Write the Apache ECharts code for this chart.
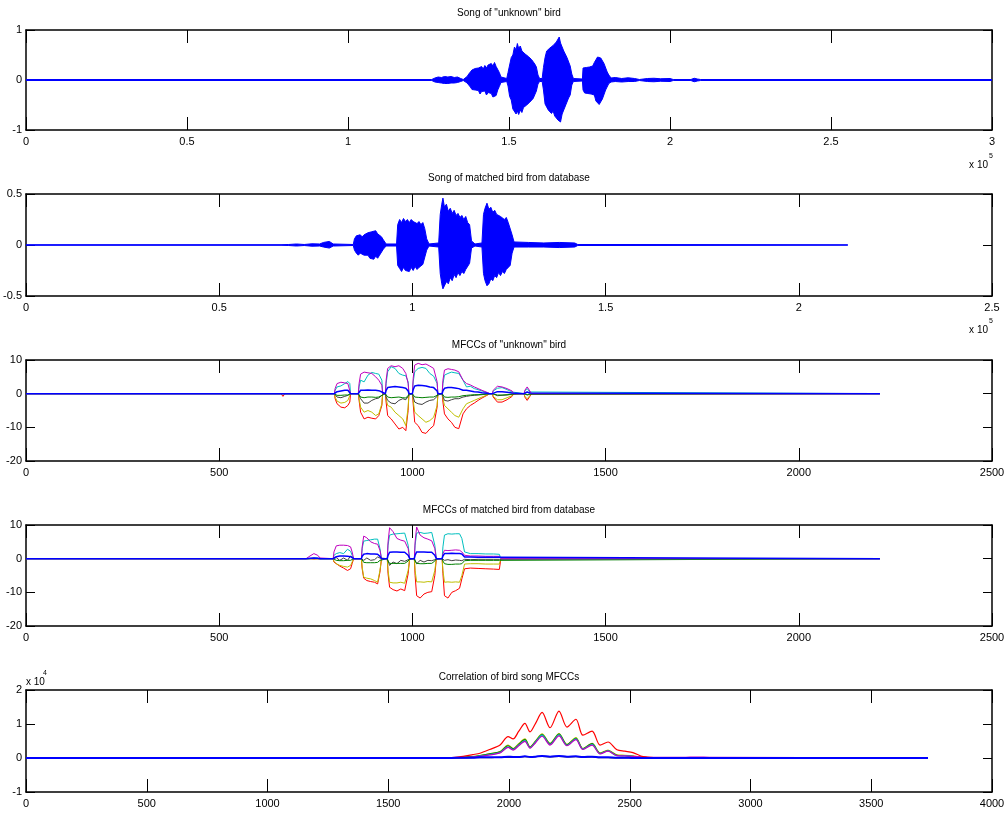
<!DOCTYPE html>
<html><head><meta charset="utf-8">
<script src="https://cdn.jsdelivr.net/npm/echarts@6/dist/echarts.min.js"></script>
<style>html,body{margin:0;padding:0;background:#fff}#c{width:1004px;height:814px}</style>
</head><body><div id="c"></div>
<script>
// ---------------- DATA ----------------
const titles = ['Song of "unknown" bird', 'Song of matched bird from database', 'MFCCs of "unknown" bird', 'MFCCs of matched bird from database', 'Correlation of bird song MFCCs'];

// Song of "unknown" bird: amplitude envelope (sample index, upper, lower)
const song1Samples = [0,126000,127000,128000,129000,130000,131000,132000,133000,134000,135000,135800,
 137000,137500,138000,138500,139000,139500,140000,140500,141000,141500,142000,142500,143000,143500,144000,144500,145000,145500,146000,146500,147000,147500,148000,
 149300,149700,150200,150700,151200,151700,152200,152600,153000,153500,154000,154500,155000,155500,156000,156500,157000,157500,158000,158500,159000,159500,
 160300,160700,161200,161700,162200,162700,163200,163700,164200,164700,165200,165600,166000,166500,167000,167500,168000,168500,169000,169500,170000,
 172800,173000,173500,174000,174500,175000,175500,176000,176500,177000,177500,178000,178500,179000,179500,180000,180500,181000,181700,
 183000,185000,187000,189000,190500,193000,195000,197000,200000,201000,206500,207500,208500,209500,300000];
const song1Upper = [0.01,0.01,0.04,0.06,0.05,0.07,0.06,0.07,0.05,0.06,0.03,0.01,
 0.07,0.12,0.16,0.2,0.17,0.23,0.19,0.24,0.2,0.27,0.22,0.29,0.24,0.3,0.26,0.33,0.28,0.35,0.27,0.24,0.15,0.06,0.03,
 0.03,0.15,0.3,0.45,0.5,0.66,0.6,0.73,0.63,0.68,0.58,0.62,0.52,0.56,0.47,0.5,0.41,0.44,0.32,0.26,0.1,0.03,
 0.03,0.25,0.45,0.58,0.55,0.64,0.6,0.69,0.66,0.76,0.72,0.86,0.74,0.7,0.58,0.6,0.45,0.42,0.28,0.12,0.03,
 0.02,0.24,0.28,0.25,0.29,0.26,0.3,0.28,0.35,0.38,0.46,0.5,0.44,0.45,0.33,0.3,0.16,0.1,0.04,
 0.05,0.03,0.045,0.03,0.01,0.03,0.035,0.025,0.03,0.01,0.01,0.035,0.02,0.01,0.01];
const song1Lower = [-0.01,-0.01,-0.04,-0.05,-0.06,-0.07,-0.07,-0.06,-0.06,-0.05,-0.03,-0.01,
 -0.06,-0.1,-0.14,-0.19,-0.22,-0.2,-0.24,-0.21,-0.28,-0.23,-0.26,-0.22,-0.3,-0.25,-0.29,-0.27,-0.34,-0.3,-0.31,-0.2,-0.13,-0.05,-0.03,
 -0.03,-0.12,-0.33,-0.4,-0.58,-0.55,-0.68,-0.62,-0.69,-0.6,-0.65,-0.55,-0.58,-0.5,-0.53,-0.44,-0.46,-0.37,-0.35,-0.22,-0.08,-0.03,
 -0.03,-0.2,-0.48,-0.5,-0.6,-0.58,-0.67,-0.62,-0.72,-0.7,-0.8,-0.76,-0.84,-0.68,-0.66,-0.52,-0.5,-0.36,-0.3,-0.1,-0.03,
 -0.02,-0.2,-0.26,-0.22,-0.27,-0.24,-0.28,-0.31,-0.3,-0.42,-0.4,-0.49,-0.47,-0.38,-0.36,-0.2,-0.18,-0.07,-0.04,
 -0.03,-0.04,-0.03,-0.03,-0.01,-0.03,-0.035,-0.025,-0.03,-0.01,-0.01,-0.035,-0.02,-0.01,-0.01];

// Song of matched bird: amplitude envelope
const song2Samples = [0,66000,66500,68000,70000,72000,74000,76000,77000,78500,79500,
 84700,85000,85500,86000,86500,87000,87500,88000,88500,89000,89500,90000,90500,91000,91500,92000,92500,93200,
 95900,96200,96700,97200,97700,98200,98700,99200,99700,100200,100700,101200,101700,102200,102700,103200,103700,104300,
 106800,107200,107600,107900,108300,108800,109300,109800,110300,110800,111300,111800,112300,112800,113300,113800,114300,114800,115300,116200,
 118000,118400,118800,119300,119800,120300,120800,121300,121800,122300,122800,123300,123800,124300,124800,125300,125800,126300,
 130000,134000,138000,142000,142800,212700];
const song2Upper = [0.003,0.003,0.01,0.005,0.01,0.005,0.012,0.01,0.025,0.035,0.01,
 0.005,0.06,0.09,0.08,0.1,0.08,0.1,0.09,0.12,0.11,0.13,0.12,0.14,0.11,0.12,0.08,0.05,0.01,
 0.01,0.2,0.25,0.22,0.26,0.23,0.25,0.22,0.25,0.23,0.24,0.21,0.23,0.2,0.22,0.16,0.06,0.01,
 0.02,0.3,0.4,0.46,0.37,0.4,0.33,0.36,0.31,0.34,0.29,0.31,0.27,0.29,0.25,0.28,0.22,0.2,0.04,0.01,
 0.02,0.3,0.36,0.41,0.35,0.37,0.32,0.34,0.3,0.31,0.28,0.29,0.25,0.27,0.22,0.23,0.1,0.03,
 0.025,0.02,0.025,0.02,0.005,0.003];
const song2Lower = [-0.003,-0.003,-0.01,-0.005,-0.01,-0.005,-0.012,-0.01,-0.02,-0.03,-0.01,
 -0.005,-0.05,-0.08,-0.1,-0.08,-0.09,-0.1,-0.11,-0.1,-0.13,-0.12,-0.14,-0.11,-0.13,-0.1,-0.09,-0.04,-0.01,
 -0.01,-0.2,-0.23,-0.26,-0.22,-0.25,-0.24,-0.26,-0.22,-0.25,-0.21,-0.24,-0.22,-0.23,-0.19,-0.18,-0.05,-0.01,
 -0.02,-0.28,-0.38,-0.43,-0.42,-0.36,-0.38,-0.32,-0.35,-0.29,-0.32,-0.27,-0.3,-0.26,-0.28,-0.24,-0.25,-0.18,-0.03,-0.01,
 -0.02,-0.28,-0.35,-0.4,-0.38,-0.33,-0.35,-0.3,-0.32,-0.27,-0.3,-0.26,-0.28,-0.24,-0.25,-0.2,-0.08,-0.02,
 -0.02,-0.02,-0.025,-0.02,-0.005,-0.003];

// MFCCs of "unknown" bird (frame index)
const mfcc1Frames = [0,660,665,670, 798,800,805,815,825,833,838,840, 860,862,866,875,885,895,905,913,921,923, 930,932,936,945,955,965,975,983,989,991, 1000,1002,1006,1015,1025,1035,1045,1055,1064,1066, 1077,1079,1083,1092,1101,1110,1120,1131,1140,1150,1160,1170,1180,1193,1200, 1207,1209,1220,1232,1245,1258,1262, 1289,1291,1297,1304,1308, 2210];
const mfcc1Red     = [0,0,-0.8,0, 0,-1.5,-3.0,-4.0,-4.2,-3.5,-2.5,0, 0,-2.0,-5.5,-7.5,-7.0,-7.3,-7.5,-6.5,-3.5,0, 0,-2.5,-6.5,-7.5,-9.0,-10.5,-10.0,-11.0,-5.0,0, 0,-3.0,-8.5,-9.5,-11.5,-11.8,-10.5,-9.5,-4.0,0, 0,-2.5,-6.0,-7.5,-8.5,-10.0,-10.4,-6.0,-4.5,-3.5,-2.8,-2.0,-1.3,-0.5,0, 0,-1.0,-2.5,-2.5,-1.8,-0.8,0, 0,-1.0,-2.0,-0.8,0, 0];
const mfcc1Yellow  = [0,0,-0.2,0, 0,-1.0,-2.2,-2.8,-2.6,-2.0,-1.5,0, 0,-1.5,-4.0,-5.5,-5.0,-5.5,-6.5,-6.0,-3.0,0, 0,-1.5,-3.5,-4.0,-5.5,-6.5,-7.5,-9.5,-4.0,0, 0,-2.0,-5.5,-6.5,-7.5,-8.5,-8.0,-7.0,-3.5,0, 0,-1.5,-3.5,-4.5,-5.5,-6.5,-7.0,-4.5,-3.0,-2.5,-2.0,-1.5,-1.0,-0.4,0, 0,-0.8,-1.8,-1.8,-1.2,-0.6,0, 0,-0.8,-1.5,-0.6,0, 0];
const mfcc1Black   = [0,0,0,0, 0,-0.3,-1.0,-1.2,-0.8,-0.5,-0.3,0, 0,-0.5,-1.5,-2.8,-2.8,-2.0,-1.5,-1.3,-0.5,0, 0,-1.0,-2.0,-2.8,-3.0,-2.0,-1.5,-1.8,-0.8,0, 0,-1.0,-2.5,-3.0,-3.2,-2.5,-2.0,-1.8,-0.8,0, 0,-0.8,-2.0,-2.2,-1.8,-1.5,-1.5,-1.0,-0.8,-0.6,-0.5,-0.4,-0.3,-0.1,0, 0,-0.3,-0.6,-0.5,-0.4,-0.2,0, 0,-0.3,-0.4,-0.2,0, 0];
const mfcc1Green   = [0,0,0,0, 0,-0.3,-0.5,-0.5,-0.4,-0.4,-0.3,0, 0,-0.5,-1.0,-1.2,-1.0,-1.0,-1.1,-1.0,-0.5,0, 0,-0.5,-1.0,-1.2,-1.1,-1.0,-1.2,-1.3,-0.5,0, 0,-0.5,-1.0,-1.1,-1.2,-1.1,-1.0,-1.0,-0.5,0, 0,-0.5,-1.0,-1.1,-1.0,-1.0,-0.9,-0.6,-0.5,-0.4,-0.3,-0.3,-0.2,-0.1,0, 0,-0.2,-0.4,-0.4,-0.3,-0.1,0, 0,-0.2,-0.3,-0.1,0, 0];
const mfcc1Cyan    = [0,0,0.1,0, 0,1.0,2.0,2.3,3.0,3.6,3.0,0, 0,2.0,4.0,3.5,5.5,6.3,6.0,5.8,4.0,0, 0,3.0,6.5,8.0,7.5,6.0,5.5,5.3,3.5,0, 0,3.5,6.5,7.5,7.8,7.5,6.0,5.2,3.0,0, 0,3.0,5.5,6.0,6.4,6.2,6.0,4.0,2.0,2.2,1.5,1.2,0.8,0.3,0, 0,0.8,1.6,1.8,1.2,0.5,0, 0,0.8,1.5,0.5,0, 0];
const mfcc1Magenta = [0,0,0.3,0, 0,1.5,3.0,3.4,3.2,3.0,2.5,0, 0,3.0,5.8,6.4,6.2,6.0,5.0,4.0,2.5,0, 0,4.0,7.5,8.3,8.0,8.3,7.5,6.0,3.0,0, 0,4.5,8.5,9.0,8.6,8.8,8.2,7.5,3.5,0, 0,4.0,7.0,7.4,7.2,7.0,6.5,4.0,3.0,2.6,2.0,1.5,1.0,0.4,0, 0,1.0,2.2,2.0,1.5,0.8,0, 0,1.0,2.0,0.8,0, 0];
const mfcc1Blue    = [0,0,0,0, 0,0.3,0.6,0.8,1.0,1.0,0.8,0, 0,0.5,1.0,1.0,1.1,1.0,1.0,0.9,0.5,0, 0,1.0,1.8,2.0,2.1,2.0,1.8,1.6,0.8,0, 0,1.2,2.3,2.5,2.4,2.3,2.0,1.8,0.8,0, 0,0.8,1.6,1.8,1.8,1.7,1.5,1.0,1.0,0.8,0.6,0.5,0.3,0.1,0, 0,0.3,0.6,0.6,0.4,0.2,0, 0,0.3,0.5,0.2,0, 0];

// MFCCs of matched bird (frame index)
const mfcc2Frames = [0,725,735,745,750,755,761,765, 795,797,803,812,822,832,840,844,848, 868,870,874,882,892,902,910,916,920, 935,937,941,950,960,970,980,989,993, 1005,1007,1011,1020,1030,1040,1050,1058,1062, 1077,1079,1083,1092,1102,1112,1122,1128,1135,1150,1170,1190,1210,1225,1227,1229, 2210];
const mfcc2Red     = [0,0,0,-0.1,-0.2,0,0,0, 0,-1.0,-1.5,-2.2,-2.8,-3.5,-3.0,-1.5,0, 0,-3.0,-5.8,-6.5,-6.8,-7.0,-7.5,-4.0,0, 0,-4.5,-8.5,-9.2,-9.6,-9.0,-9.5,-4.5,0, 0,-5.0,-11.0,-11.7,-10.5,-10.0,-9.8,-5.0,0, 0,-4.5,-11.0,-11.7,-10.0,-9.5,-8.8,-6.0,-3.0,-2.8,-2.9,-3.0,-3.1,-3.2,-3.2,0, 0];
const mfcc2Yellow  = [0,0,0,0,0,0,0,0, 0,-0.8,-1.5,-2.0,-2.3,-2.5,-2.0,-1.0,0, 0,-2.5,-5.5,-5.8,-6.0,-6.5,-7.0,-3.5,0, 0,-3.5,-7.0,-7.2,-7.2,-7.0,-7.3,-3.5,0, 0,-3.5,-6.9,-6.9,-7.0,-6.8,-6.9,-3.5,0, 0,-3.5,-7.0,-6.9,-7.0,-6.9,-7.0,-5.0,-1.6,-1.5,-1.5,-1.6,-1.6,-1.6,-1.6,0, 0];
const mfcc2Black   = [0,0,0,0.1,0,0,0,0, 0,0.5,0.3,-0.5,0.2,-0.5,0.8,0.5,0, 0,-0.3,-0.5,0.2,-0.5,-0.3,0.5,0.2,0, 0,-0.5,-2.0,-1.0,-1.5,-0.5,-0.8,-0.3,0, 0,-0.5,-1.5,-0.5,-1.0,-0.5,-0.6,-0.3,0, 0,-0.2,-0.5,-0.3,-0.6,-0.4,-0.5,-0.6,-0.2,-0.3,-0.2,-0.2,-0.2,-0.2,-0.2,0, 0];
const mfcc2Green   = [0,0,0,0,0,0,0,0, 0,-0.3,-0.5,-0.6,-0.6,-0.5,-0.5,-0.2,0, 0,-0.5,-1.1,-1.2,-1.2,-1.2,-1.1,-0.5,0, 0,-0.7,-1.4,-1.4,-1.4,-1.4,-1.4,-0.7,0, 0,-0.7,-1.4,-1.5,-1.5,-1.4,-1.4,-0.7,0, 0,-0.7,-1.5,-1.7,-1.7,-1.6,-1.6,-1.5,-0.6,-0.5,-0.5,-0.5,-0.5,-0.5,-0.5,0, 0];
const mfcc2Cyan    = [0,0,0,0.2,0.3,0.2,0,0, 0,1.0,1.5,1.8,1.5,2.8,2.2,1.0,0, 0,3.0,5.2,5.4,5.6,5.8,5.8,3.0,0, 0,4.0,7.0,7.3,7.4,7.5,7.6,4.0,0, 0,4.0,7.6,7.8,7.5,7.6,7.8,4.0,0, 0,3.5,7.0,7.4,7.3,7.4,7.4,6.0,2.0,1.5,1.5,1.4,1.4,1.3,1.3,0, 0];
const mfcc2Magenta = [0,0,0.8,1.5,1.8,1.0,0.2,0, 0,2.0,3.8,4.0,4.0,3.9,3.5,2.0,0, 0,3.5,6.7,6.2,5.0,4.5,4.3,2.5,0, 0,5.0,9.2,8.0,6.0,5.5,5.2,3.0,0, 0,5.0,9.4,7.0,6.2,5.8,5.3,3.0,0, 0,1.5,2.5,2.4,2.5,2.6,2.5,2.0,1.0,0.8,0.8,0.7,0.7,0.7,0.7,0, 0];
const mfcc2Blue    = [0,0,0.1,0.2,0.2,0.1,0,0, 0,0.3,0.6,0.8,0.8,0.7,0.6,0.3,0, 0,0.7,1.3,1.5,1.4,1.4,1.3,0.7,0, 0,1.0,1.9,2.0,2.0,1.9,1.9,1.0,0, 0,1.0,2.0,2.0,2.0,1.9,1.9,1.0,0, 0,0.8,1.5,1.5,1.6,1.5,1.5,1.4,0.5,0.5,0.4,0.4,0.4,0.4,0.4,0, 0];

// Correlation of bird song MFCCs (lag index, values in units of 10^4)
const corrLags = [0,1630,1750,1810,1850,1880,1920,1963,1996,2017,2040,2066,2087,2110,2137,2170,2207,2240,2277,2306,2344,2377,2410,2447,2480,2513,2555,2600,2720,2780,2830,3735];
const corrRed     = [0,0,0.01,0.05,0.1,0.14,0.25,0.38,0.63,0.56,0.78,1.02,0.77,1.02,1.34,0.89,1.38,0.91,1.14,0.67,0.79,0.38,0.47,0.24,0.2,0.16,0.04,0.01,0,0,0,0];
const corrYellow  = [0,0,0,0.02,0.04,0.07,0.12,0.19,0.38,0.28,0.42,0.56,0.33,0.5,0.71,0.43,0.72,0.4,0.6,0.28,0.43,0.15,0.23,0.09,0.08,0.06,0.02,0.01,0,0,0,0];
const corrGreen   = [0,0,0,0.02,0.04,0.07,0.12,0.18,0.36,0.27,0.4,0.54,0.32,0.49,0.69,0.42,0.7,0.39,0.58,0.27,0.42,0.14,0.22,0.08,0.07,0.05,0.02,0,0,0,0,0];
const corrCyan    = [0,0,0,0.01,0.03,0.06,0.1,0.16,0.33,0.25,0.38,0.51,0.3,0.47,0.67,0.4,0.68,0.37,0.56,0.26,0.4,0.13,0.21,0.07,0.07,0.05,0.02,0,0,0,0,0];
const corrMagenta = [0,0,0,0.01,0.03,0.05,0.09,0.15,0.31,0.23,0.36,0.49,0.29,0.45,0.64,0.38,0.65,0.36,0.54,0.25,0.38,0.12,0.2,0.07,0.06,0.05,0.03,0.02,0.02,0.03,0.02,0];
const corrBlack   = [0,0,0,0,0.01,0.01,0.01,0.02,0.02,0.02,0.03,0.04,0.03,0.04,0.05,0.03,0.05,0.03,0.04,0.02,0.03,0.01,0.01,0,0,0,0,0,0,0,0,0];
const corrBlue    = [0,0,0,0.01,0.01,0.02,0.02,0.02,0.04,0.03,0.03,0.05,0.03,0.04,0.06,0.04,0.06,0.04,0.05,0.03,0.04,0.02,0.02,0.01,0.01,0,0,0,0,0,0,0];

// ---------------- CHART ----------------
const FONT = '"Liberation Sans Narrow","Liberation Sans",Arial,sans-serif';
const COL = {b:'#0000ff', g:'#008000', r:'#ff0000', c:'#00bfbf', m:'#bf00bf', y:'#bfbf00', k:'#404040'};
const e5 = v => String(+(v / 1e5).toFixed(2));
const plain = v => String(v);
const panels = [
  {top:30,  height:100, xMax:300000, xInt:50000, yMin:-1,  yMax:1,   yInt:1,   fmt:e5,    titleY:13},
  {top:194, height:102, xMax:250000, xInt:50000, yMin:-0.5,yMax:0.5, yInt:0.5, fmt:e5,    titleY:178},
  {top:360, height:101, xMax:2500,   xInt:500,   yMin:-20, yMax:10,  yInt:10,  fmt:plain, titleY:345},
  {top:525, height:101, xMax:2500,   xInt:500,   yMin:-20, yMax:10,  yInt:10,  fmt:plain, titleY:510},
  {top:690, height:102, xMax:4000,   xInt:500,   yMin:-1,  yMax:2,   yInt:1,   fmt:plain, titleY:677}
];
const grids = [], xAxes = [], yAxes = [], series = [], graphics = [];
const frameLine = {show:true, onZero:false, lineStyle:{color:'#000', width:1.5}};
const lbl = {fontFamily:FONT, fontSize:11, color:'#000'};
panels.forEach((p, i) => {
  grids.push({left:26, right:12, top:p.top, height:p.height, show:false, containLabel:false, outerBoundsMode:'none'});
  const xb = {type:'value', gridIndex:i, min:0, max:p.xMax, interval:p.xInt, axisLine:frameLine,
    axisTick:{show:true, inside:true, length:13, lineStyle:{color:'#000', width:1}}, splitLine:{show:false}};
  xAxes.push(Object.assign({}, xb, {position:'bottom', axisLabel:Object.assign({margin:6, formatter:p.fmt}, lbl)}));
  xAxes.push(Object.assign({}, xb, {position:'top', axisLabel:{show:false}}));
  const yb = {type:'value', gridIndex:i, min:p.yMin, max:p.yMax, interval:p.yInt, axisLine:frameLine,
    axisTick:{show:true, inside:true, length:9, lineStyle:{color:'#000', width:1}}, splitLine:{show:false}};
  yAxes.push(Object.assign({}, yb, {position:'left', axisLabel:Object.assign({margin:4}, lbl)}));
  yAxes.push(Object.assign({}, yb, {position:'right', axisLabel:{show:false}}));
  graphics.push({type:'text', x:509, y:p.titleY, silent:true,
    style:{text:titles[i], fontFamily:FONT, fontSize:10, fill:'#000', align:'center', verticalAlign:'middle'}});
});

function pairs(xs, ys){ return xs.map((x, k) => [x, ys[k]]); }
function envelope(gi, xs, vals){
  return {type:'line', xAxisIndex:2*gi, yAxisIndex:2*gi, data:pairs(xs, vals), symbol:'none', showSymbol:false,
    lineStyle:{color:COL.b, width:1}, areaStyle:{color:COL.b, opacity:1}, animation:false, silent:true};
}
function curve(gi, xs, vals, color, smooth, width){
  return {type:'line', xAxisIndex:2*gi, yAxisIndex:2*gi, data:pairs(xs, vals), symbol:'none', showSymbol:false,
    smooth:smooth || false, lineStyle:{color:color, width:width || 1}, animation:false, silent:true};
}
series.push(envelope(0, song1Samples, song1Upper), envelope(0, song1Samples, song1Lower));
series.push(envelope(1, song2Samples, song2Upper), envelope(1, song2Samples, song2Lower));
[[mfcc1Red,'r'],[mfcc1Yellow,'y'],[mfcc1Black,'k'],[mfcc1Green,'g'],[mfcc1Cyan,'c'],[mfcc1Magenta,'m'],[mfcc1Blue,'b']]
  .forEach(([v,c]) => series.push(curve(2, mfcc1Frames, v, COL[c], false, c === 'b' ? 1.5 : 1)));
[[mfcc2Red,'r'],[mfcc2Yellow,'y'],[mfcc2Black,'k'],[mfcc2Green,'g'],[mfcc2Cyan,'c'],[mfcc2Magenta,'m'],[mfcc2Blue,'b']]
  .forEach(([v,c]) => series.push(curve(3, mfcc2Frames, v, COL[c], false, c === 'b' ? 1.5 : 1)));
[[corrYellow,'y'],[corrGreen,'g'],[corrCyan,'c'],[corrMagenta,'m'],[corrRed,'r'],[corrBlack,'k'],[corrBlue,'b']]
  .forEach(([v,c]) => series.push(curve(4, corrLags, v, COL[c], 0.3, c === 'b' ? 2 : 1.2)));

// exponent annotations ("x 10" with superscript power)
function expo(x, y, anchor, pw, px, py){
  graphics.push({type:'text', x:x, y:y, silent:true, style:{text:'x 10', fontFamily:FONT, fontSize:10, fill:'#000', align:anchor, verticalAlign:'middle'}});
  graphics.push({type:'text', x:px, y:py, silent:true, style:{text:pw, fontFamily:FONT, fontSize:7, fill:'#000', align:'left', verticalAlign:'middle'}});
}
expo(988, 165, 'right', '5', 989, 156);
expo(988, 330, 'right', '5', 989, 321);
expo(26, 682, 'left', '4', 43, 673);

const chart = echarts.init(document.getElementById('c'), null, {renderer:'canvas'});
chart.setOption({animation:false, backgroundColor:'#fff', grid:grids, xAxis:xAxes, yAxis:yAxes, series:series, graphic:graphics});
</script></body></html>
